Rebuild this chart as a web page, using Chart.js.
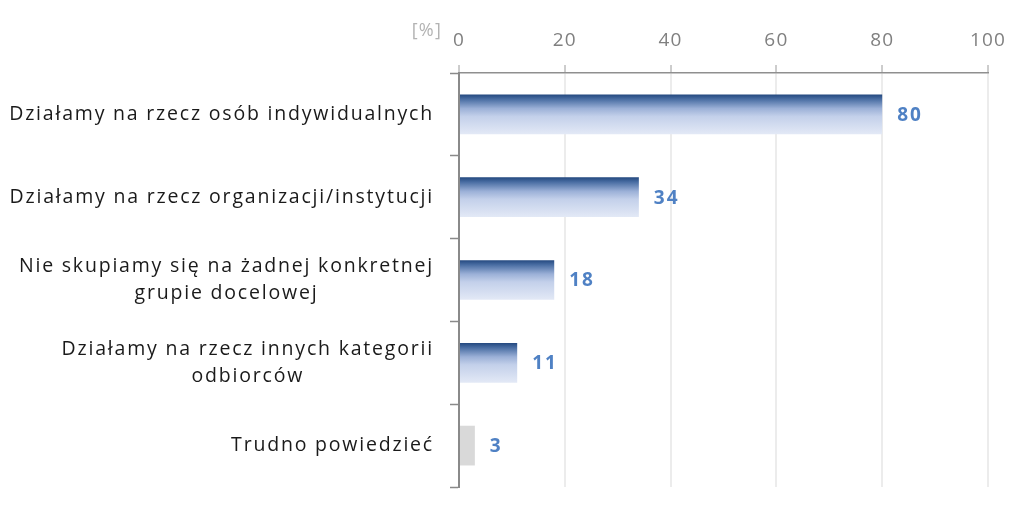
<!DOCTYPE html>
<html>
<head>
<meta charset="utf-8">
<script src="https://cdn.jsdelivr.net/npm/chart.js@4.4.1/dist/chart.umd.min.js"></script>
<style>
	html, body { margin: 0; padding: 0; background: #fff; }
	#wrap { width: 1009px; height: 516px; position: relative; }
</style>
</head>
<body>
<div id="wrap"><canvas id="chart"></canvas></div>
<script>
(function(){
	'use strict';

	// data
	var categories = [
		['Działamy na rzecz osób indywidualnych'],
		['Działamy na rzecz organizacji/instytucji'],
		['Nie skupiamy się na żadnej konkretnej', 'grupie docelowej'],
		['Działamy na rzecz innych kategorii', 'odbiorców'],
		['Trudno powiedzieć']
	];
	var values = [80, 34, 18, 11, 3];
	var xTicks = [0, 20, 40, 60, 80, 100];
	var unitLabel = '[%]';

	var labelFont = '19.5px "Open Sans"';
	var valueFont = 'bold 19px "Open Sans"';

	function barGeom(chart, i){
		var y = chart.scales.y;
		var band = Math.abs(y.getPixelForValue(1) - y.getPixelForValue(0));
		var h = band * 0.48;
		var c = y.getPixelForValue(i);
		return { top: c - h / 2, bottom: c + h / 2 };
	}

	function barFill(ctx){
		if (ctx.type !== 'data') return '#9fb3da';
		if (ctx.dataIndex === categories.length - 1) return '#d9d9d9';
		var chart = ctx.chart;
		if (!chart.scales || !chart.scales.y) return '#9fb3da';
		var g = barGeom(chart, ctx.dataIndex);
		if (!isFinite(g.top) || !isFinite(g.bottom) || g.bottom <= g.top) return '#9fb3da';
		var grad = chart.ctx.createLinearGradient(0, g.top, 0, g.bottom);
		grad.addColorStop(0, '#23487f');
		grad.addColorStop(0.12, '#4a6ea3');
		grad.addColorStop(0.35, '#9bb0d7');
		grad.addColorStop(0.55, '#c3d0ea');
		grad.addColorStop(1, '#e3e9f6');
		return grad;
	}

	var textPlugin = {
		id: 'texts',
		beforeDraw: function(chart){
			// the source text is drawn a little wider than the font
			chart.ctx.letterSpacing = '1.2px';
		},
		afterDraw: function(chart){
			var c = chart.ctx;
			var ys = chart.scales.y;
			var xs = chart.scales.x;
			c.save();

			// category labels, lines centred on each other, block right aligned
			c.font = labelFont;
			c.letterSpacing = '1.8px';
			c.fillStyle = '#1a1a1a';
			c.textBaseline = 'middle';
			c.textAlign = 'center';
			var right = 434;
			var lh = 27;
			categories.forEach(function(lines, i){
				var w = 0;
				lines.forEach(function(l){ w = Math.max(w, c.measureText(l).width); });
				var cy = ys.getPixelForValue(i) - (lines.length - 1) * lh / 2;
				lines.forEach(function(l, k){
					c.fillText(l, right - w / 2, cy + k * lh);
				});
			});

			// value labels
			c.font = valueFont;
			c.letterSpacing = '2px';
			c.fillStyle = '#4f81c4';
			c.textAlign = 'left';
			values.forEach(function(v, i){
				c.fillText(String(v), xs.getPixelForValue(v) + 15, ys.getPixelForValue(i) + 1);
			});

			// unit
			c.font = '18px "Open Sans"';
			c.letterSpacing = '1.2px';
			c.fillStyle = '#b3b3b3';
			c.textAlign = 'right';
			c.fillText(unitLabel, 442, 31);
			c.restore();
		}
	};

	var chart = new Chart(document.getElementById('chart'), {
		type: 'bar',
		data: {
			labels: categories,
			datasets: [{
				data: values,
				backgroundColor: barFill,
				borderWidth: 0,
				barPercentage: 0.48,
				categoryPercentage: 1
			}]
		},
		options: {
			indexAxis: 'y',
			responsive: true,
			maintainAspectRatio: false,
			animation: false,
			devicePixelRatio: 1,
			layout: { padding: { left: 0, right: 21, top: 0, bottom: 29 } },
			plugins: { legend: { display: false }, tooltip: { enabled: false } },
			scales: {
				x: {
					position: 'top',
					min: xTicks[0],
					max: xTicks[xTicks.length - 1],
					afterBuildTicks: function(scale){
						scale.ticks = xTicks.map(function(v){ return { value: v }; });
					},
					afterFit: function(scale){
						scale.height = 73;
						scale.paddingLeft = 0;
						scale.paddingRight = 0;
					},
					grid: { color: '#ececec', lineWidth: 2, tickLength: 8, tickColor: '#9a9a9a', tickWidth: 1 },
					border: { color: '#8f8f8f', width: 1.5 },
					ticks: { color: '#808080', font: { family: 'Open Sans', size: 19 }, padding: 13 }
				},
				y: {
					afterFit: function(scale){ scale.width = 459; },
					grid: { offset: true, drawOnChartArea: false, tickLength: 9, tickColor: '#8a8a8a', tickWidth: 1.5 },
					border: { color: '#8a8a8a', width: 2 },
					ticks: { display: false }
				}
			}
		},
		plugins: [textPlugin]
	});
	chart.update();
})();
</script>
</body>
</html>
